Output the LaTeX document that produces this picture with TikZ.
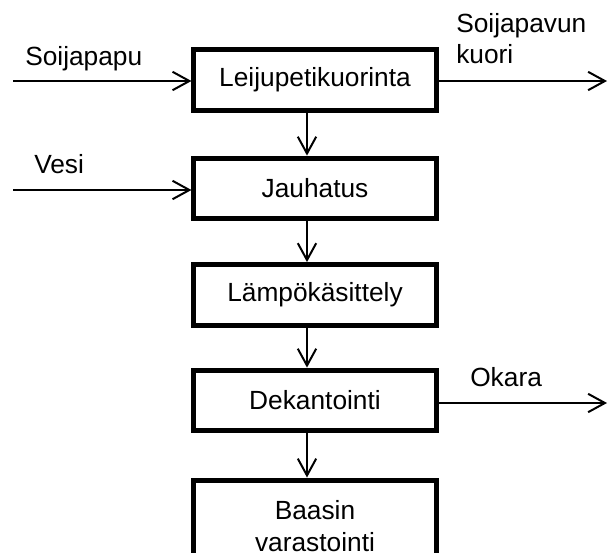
\documentclass[tikz,border=0pt]{standalone}
\usepackage{fontspec}
\setmainfont{Liberation Sans}
\usetikzlibrary{arrows.meta}

\begin{document}
\begin{tikzpicture}[x=0.025cm, y=-0.025cm,
    every node/.style={font=\fontsize{18.7}{22.5}\selectfont},
    stage/.style={draw, line width=0.125cm, minimum width=6.05cm,
      minimum height=1.52cm, inner sep=0pt, align=center},
    flow/.style={line width=0.05cm,
      -{Straight Barb[length=0.42cm, width=0.46cm, line width=0.05cm]}},
    tag/.style={inner sep=0pt, anchor=base west, align=left,
      font=\fontsize{18.7}{21.5}\selectfont}]

  \useasboundingbox (0,0) rectangle (608,553);

  % process stages, top to bottom
  \node[stage] (kuor) at (315,80) {Leijupetikuorinta};
  \node[stage] (jauh) at (315,188.5) {Jauhatus};
  \node[stage] (lamp) at (315,295) {Lämpökäsittely};
  \node[stage] (dek) at (315,400.5) {Dekantointi};
  \begin{scope}
    \clip (0,0) rectangle (608,553);
    \node[stage, minimum height=2.3cm, anchor=north] (baas) at (315,477.5)
      {Baasin\\varastointi};
  \end{scope}

  % main line, slightly left of the box centres
  \coordinate (col) at (307,0);
  \draw[flow] (kuor.south -| col) -- (jauh.north -| col);
  \draw[flow] (jauh.south -| col) -- (lamp.north -| col);
  \draw[flow] (lamp.south -| col) -- (dek.north -| col);
  \draw[flow] (dek.south -| col) -- (baas.north -| col);

  % feeds in from the left
  \coordinate (soyin) at (13,81);
  \coordinate (vesin) at (13,190);
  \draw[flow] (soyin) -- (soyin -| kuor.west);
  \draw[flow] (vesin) -- (vesin -| jauh.west);
  \node[tag] (soy) at (25,65) {Soijapapu};
  \node[tag] (vesi) at (34,173) {Vesi};

  % streams out to the right
  \coordinate (kuorout) at (607,81);
  \coordinate (okout) at (607,403);
  \draw[flow] (kuorout -| kuor.east) -- (kuorout);
  \draw[flow] (okout -| dek.east) -- (okout);
  \node[tag] (kuori) at (456,63) {Soijapavun\\kuori};
  \node[tag] (okara) at (470,386) {Okara};

\end{tikzpicture}
\end{document}
